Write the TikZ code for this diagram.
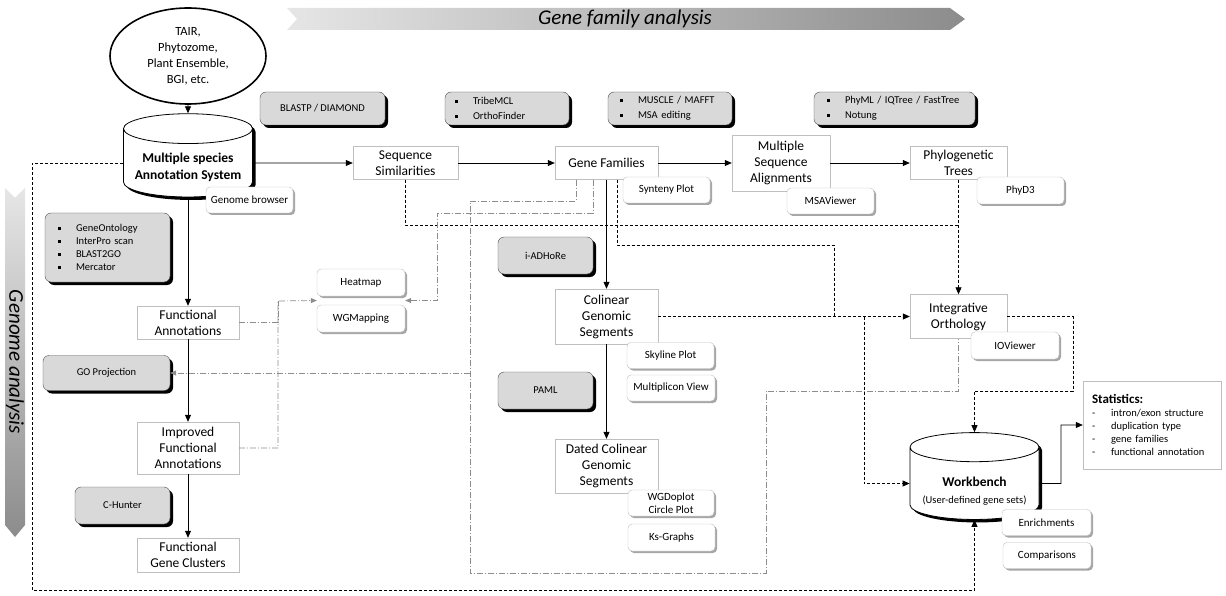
\documentclass[tikz,border=0pt]{standalone}
\usepackage{fontspec}
\setmainfont{Carlito}
\usetikzlibrary{shapes.geometric,shadows,arrows.meta,calc}
\definecolor{bl}{RGB}{230,230,230}
\definecolor{bd}{RGB}{140,140,140}
\definecolor{tf}{RGB}{217,217,217}
\definecolor{lg}{RGB}{191,191,191}
\newcommand{\itm}[1]{\mbox{\makebox[18pt][l]{\rule[1.8pt]{2.8pt}{2.8pt}}#1}}
\newcommand{\dsh}[1]{\mbox{\makebox[19pt][l]{-}#1}}

\begin{document}
\begin{tikzpicture}[
  proc/.style={draw=lg, fill=white, inner sep=0pt, align=center, font=\fontsize{13.5}{16}\selectfont},
  tool/.style={draw=black!70, fill=tf, rounded corners=6pt, inner sep=0pt, align=center, font=\fontsize{10.5}{14.5}\selectfont, drop shadow={shadow xshift=3pt, shadow yshift=-3pt, fill=black, opacity=1}},
  viewer/.style={draw=lg, fill=white, rounded corners=4pt, inner sep=0pt, align=center, font=\fontsize{11}{13}\selectfont, drop shadow={shadow xshift=2pt, shadow yshift=-2pt, fill=black!35, opacity=1}},
  db/.style={cylinder, shape border rotate=90, aspect=0.28, draw=black, line width=0.8pt, fill=white, align=center, inner sep=0pt, drop shadow={shadow xshift=3pt, shadow yshift=-3pt, fill=black, opacity=1}},
  flow/.style={line width=0.8pt, -{Triangle[length=7pt,width=6pt]}},
  link/.style={line width=0.8pt, dash pattern=on 3pt off 2pt},
  feed/.style={line width=0.7pt, draw=black!45, dash pattern=on 6pt off 2pt on 1pt off 2pt},
  ]
\useasboundingbox (0pt,0pt) rectangle (1226pt,-596pt);

% banners
\shade [left color=bl, right color=bd] (287pt,-8pt) -- (950pt,-8pt) -- (965pt,-19pt) -- (950pt,-30pt) -- (287pt,-30pt) -- (297pt,-19pt) -- cycle;
\node (gfa) [font=\fontsize{21}{24}\selectfont\itshape] at (625pt,-19pt) {Gene family analysis};
\shade [top color=bl, bottom color=bd] (5pt,-188pt) -- (15pt,-198pt) -- (25pt,-188pt) -- (25pt,-525pt) -- (15pt,-537pt) -- (5pt,-525pt) -- cycle;
\node (ga) [rotate=-90, font=\fontsize{21}{24}\selectfont\itshape] at (15pt,-362pt) {Genome analysis};

% sources and databases
\node (src) [ellipse, draw, line width=1.6pt, minimum width=156pt, minimum height=96pt, align=center, inner sep=0pt, font=\fontsize{12.5}{16}\selectfont] at (188pt,-56pt) {TAIR,\\Phytozome,\\Plant Ensemble,\\BGI, etc.};
\node (msas) [db, minimum width=129pt, minimum height=80pt, font=\fontsize{13.5}{17}\selectfont\bfseries] at (188pt,-163pt) {\rule{0pt}{19pt}Multiple species\\Annotation System};
\node (workbench) [db, minimum width=129pt, minimum height=75pt, font=\fontsize{13.5}{17}\selectfont] at (974.5pt,-483.5pt) {\rule{0pt}{24pt}\textbf{Workbench}\\{\fontsize{10.5}{12}\selectfont (User-defined gene sets)}};

% tools
\node (blast) [tool, minimum width=125pt, minimum height=33pt] at (322.5pt,-108.5pt) {BLASTP / DIAMOND};
\node (tribe) [tool, minimum width=124pt, minimum height=33pt, text width=104pt, align=left] at (507pt,-108.5pt) {\itm{TribeMCL}\\\itm{OrthoFinder}};
\node (muscle) [tool, minimum width=124pt, minimum height=33pt, text width=100pt, align=left] at (670pt,-108.5pt) {\itm{MUSCLE / MAFFT}\\\itm{MSA editing}};
\node (phyml) [tool, minimum width=161pt, minimum height=33pt, text width=135pt, align=left] at (894.5pt,-108.5pt) {\itm{PhyML / IQTree / FastTree}\\\itm{Notung}};
\node (gotools) [tool, minimum width=125pt, minimum height=69pt, text width=99pt, align=left, font=\fontsize{10.5}{12.8}\selectfont] at (107.5pt,-247.5pt) {\itm{GeneOntology}\\\itm{InterPro scan}\\\itm{BLAST2GO}\\\itm{Mercator}};
\node (goproj) [tool, minimum width=127pt, minimum height=35pt] at (106.5pt,-373pt) {GO Projection};
\node (iadhore) [tool, minimum width=95pt, minimum height=37pt] at (545.5pt,-255.5pt) {i-ADHoRe};
\node (paml) [tool, minimum width=95pt, minimum height=37pt] at (545.5pt,-390.5pt) {PAML};
\node (chunter) [tool, minimum width=95pt, minimum height=37pt] at (122.5pt,-505.5pt) {C-Hunter};

% analysis steps
\node (seqsim) [proc, minimum width=105pt, minimum height=33pt] at (405.5pt,-163pt) {Sequence\\Similarities};
\node (genefam) [proc, minimum width=103pt, minimum height=33pt] at (606.5pt,-163pt) {Gene Families};
\node (msa) [proc, minimum width=98pt, minimum height=56pt] at (781pt,-163pt) {Multiple\\Sequence\\Alignments};
\node (phylo) [proc, minimum width=97pt, minimum height=33pt] at (958.5pt,-163pt) {Phylogenetic\\Trees};
\node (funcann) [proc, minimum width=102pt, minimum height=33pt] at (188pt,-322.5pt) {Functional\\Annotations};
\node (improved) [proc, minimum width=102pt, minimum height=52pt] at (188pt,-448pt) {Improved\\Functional\\Annotations};
\node (clusters) [proc, minimum width=102pt, minimum height=34pt] at (188pt,-555pt) {Functional\\Gene Clusters};
\node (colinear) [proc, minimum width=103pt, minimum height=55pt] at (606.5pt,-316.5pt) {Colinear\\Genomic\\Segments};
\node (dated) [proc, minimum width=103pt, minimum height=54pt] at (606.5pt,-466pt) {Dated Colinear\\Genomic\\Segments};
\node (io) [proc, minimum width=97pt, minimum height=44pt] at (958.5pt,-316.5pt) {Integrative\\Orthology};
\node (stats) [proc, minimum width=138pt, minimum height=88pt, text width=120pt, align=left, font=\fontsize{10.5}{13}\selectfont] at (1152pt,-425pt) {{\fontsize{13}{16}\selectfont\bfseries Statistics:}\\\dsh{intron/exon structure}\\\dsh{duplication type}\\\dsh{gene families}\\\dsh{functional annotation}};

% viewers
\node (gbrowser) [viewer, minimum width=87pt, minimum height=26pt] at (249.5pt,-200pt) {Genome browser};
\node (synteny) [viewer, minimum width=87pt, minimum height=26pt] at (666.5pt,-190pt) {Synteny Plot};
\node (msaview) [viewer, minimum width=87pt, minimum height=26pt] at (830.5pt,-201pt) {MSAViewer};
\node (phyd3) [viewer, minimum width=87pt, minimum height=27pt] at (1020.5pt,-190.5pt) {PhyD3};
\node (heatmap) [viewer, minimum width=88pt, minimum height=27pt] at (361pt,-282.5pt) {Heatmap};
\node (wgmapping) [viewer, minimum width=88pt, minimum height=27pt] at (361pt,-318.5pt) {WGMapping};
\node (skyline) [viewer, minimum width=87pt, minimum height=26pt] at (670.5pt,-355.5pt) {Skyline Plot};
\node (multiplicon) [viewer, minimum width=88pt, minimum height=26pt] at (671pt,-388pt) {Multiplicon View};
\node (wgdoplot) [viewer, minimum width=86pt, minimum height=26pt] at (671pt,-503pt) {WGDoplot\\Circle Plot};
\node (ksgraphs) [viewer, minimum width=87pt, minimum height=27pt] at (671.5pt,-537.5pt) {Ks-Graphs};
\node (ioviewer) [viewer, minimum width=88pt, minimum height=27pt] at (1015pt,-345.5pt) {IOViewer};
\node (enrich) [viewer, minimum width=89pt, minimum height=26pt] at (1046.5pt,-522.5pt) {Enrichments};
\node (compar) [viewer, minimum width=88pt, minimum height=26pt] at (1047pt,-555.5pt) {Comparisons};

% turning points
\coordinate (loopbl) at (32pt,-590pt);
\coordinate (phyjoin) at (958.5pt,-225pt);
\coordinate (gfturn) at (834pt,-245pt);
\coordinate (coljoin) at (834pt,-316.5pt);
\coordinate (wbdrop) at (864pt,-316.5pt);
\coordinate (ioturn) at (1073pt,-391pt);
\coordinate (wbturn) at (1061pt,-483.5pt);
\coordinate (vizl) at (278pt,-301pt);
\coordinate (vizin) at ($(heatmap.south west)!.5!(wgmapping.north west)$);
\coordinate (vizout) at ($(heatmap.south east)!.5!(wgmapping.north east)$);
\coordinate (fbA) at (437pt,-213pt);
\coordinate (fbB) at (470pt,-201pt);
\coordinate (fbC) at (766pt,-573pt);
\coordinate (fbD) at (958.5pt,-391pt);
\coordinate (goj) at (470pt,-373pt);

% main flow
\draw [flow] (src) to (msas);
\draw [flow] (msas.east) to (seqsim.west);
\draw [flow] (seqsim) to (genefam);
\draw [flow] (genefam) to (msa);
\draw [flow] (msa) to (phylo);
\draw [flow] (genefam) to (colinear);
\draw [flow] (colinear) to (dated);
\draw [flow] (msas.south) to (funcann.north);
\draw [flow] (funcann) to (improved);
\draw [flow] (improved) to (clusters);
\draw [flow] (workbench.east) -- (wbturn) |- (stats.west);

% links into orthology and workbench
\draw [link, -{Triangle[length=7pt,width=6pt]}] (msas.west) -| (loopbl) -| (workbench.south);
\draw [link] (seqsim.south) |- (phyjoin);
\draw [link, -{Triangle[length=7pt,width=6pt]}] (phylo.south) to (io.north);
\draw [link] ([xshift=10.5pt]genefam.south) |- (gfturn) -- (coljoin);
\draw [link, -{Triangle[length=7pt,width=6pt]}] (colinear.east) to (io.west);
\draw [link, -{Triangle[length=7pt,width=6pt]}] (wbdrop) |- (workbench.west);
\draw [link, -{Triangle[length=7pt,width=6pt]}] (io.east) -| (ioturn) -| (workbench.north);

% feedback to viewers
\draw [feed] (funcann.east) -| (vizl);
\draw [feed, -{Triangle[length=6pt,width=5pt]}] (improved.east) -| (vizl) -- (vizin);
\draw [feed, -{Triangle[length=6pt,width=5pt]}] ([xshift=-13.5pt]genefam.south) |- (fbA) |- (vizout);
\draw [feed] ([xshift=-30.5pt]genefam.south) |- (fbB) |- (fbC) |- (fbD) -- (io.south);
\draw [feed, -{Triangle[length=6pt,width=5pt]}] (goj) -- (goproj.east);
\end{tikzpicture}
\end{document}
